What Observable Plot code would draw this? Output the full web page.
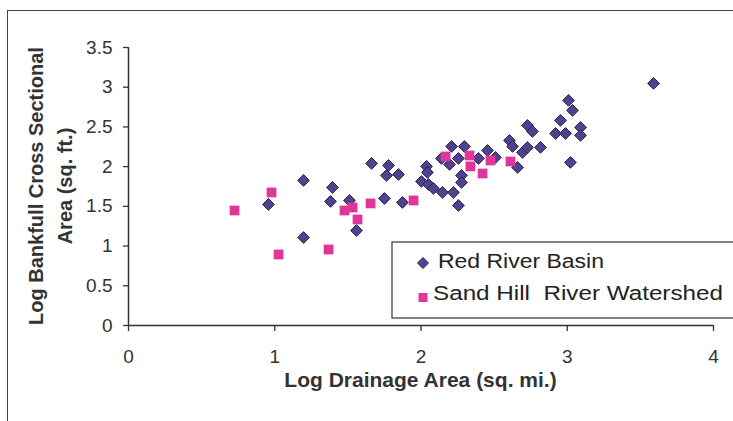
<!DOCTYPE html>
<html>
<head>
<meta charset="utf-8">
<script src="https://cdn.jsdelivr.net/npm/d3@7"></script>
<script src="https://cdn.jsdelivr.net/npm/@observablehq/plot@0.6"></script>
<style>
  html, body { margin: 0; padding: 0; background: #fff; }
  #wrap { position: relative; width: 733px; height: 421px; overflow: hidden; background: #fff; }
  #frame { position: absolute; left: 7px; top: 10px; width: 800px; height: 500px; border: 1.5px solid #444; box-sizing: border-box; }
  #chart { position: absolute; left: 0; top: 0; }
  #overlay { position: absolute; left: 0; top: 0; }
  .ttl { font-family: "Liberation Sans", Arial, sans-serif; font-weight: bold; fill: #333; }
  .leg { font-family: "Liberation Sans", Arial, sans-serif; fill: #222; white-space: pre; }
</style>
</head>
<body>
<div id="wrap">
  <div id="frame"></div>
  <div id="chart"></div>
  <svg id="overlay" width="733" height="421">
    <text class="ttl" x="420.5" y="387" text-anchor="middle" font-size="21">Log Drainage Area (sq. mi.)</text>
    <text class="ttl" transform="translate(43,186) rotate(-90)" text-anchor="middle" font-size="20">Log Bankfull Cross Sectional</text>
    <text class="ttl" transform="translate(72,186) rotate(-90)" text-anchor="middle" font-size="20">Area (sq. ft.)</text>
    <rect x="392" y="242" width="360" height="76" fill="#fff" stroke="#333" stroke-width="1.2"></rect>
    <path d="M423,257.5 L428.5,263 L423,268.5 L417.5,263 Z" fill="#50428f" stroke="#2a2350" stroke-width="1"></path>
    <rect x="418.5" y="293" width="9" height="9" fill="#e0359b"></rect>
    <text class="leg" x="438" y="268" font-size="20" textLength="166" lengthAdjust="spacingAndGlyphs">Red River Basin</text>
    <text class="leg" x="433" y="300" font-size="20" textLength="290" lengthAdjust="spacingAndGlyphs" xml:space="preserve">Sand Hill  River Watershed</text>
  </svg>
</div>
<script>
// Red River Basin (diamonds)
const redX = [0.957,1.197,1.197,1.395,1.381,1.511,1.559,1.662,1.778,1.764,1.846,1.750,1.873,2.038,2.044,2.003,2.051,2.085,2.147,2.222,2.256,2.277,2.277,2.209,2.297,2.195,2.140,2.256,2.455,2.393,2.509,2.660,2.605,2.626,2.694,2.728,2.728,2.762,2.817,2.920,2.954,2.988,3.009,3.036,3.091,3.091,3.022,3.590];
const redY = [1.524,1.826,1.108,1.738,1.562,1.574,1.196,2.040,2.015,1.889,1.902,1.599,1.549,2.003,1.927,1.814,1.776,1.725,1.675,1.675,1.511,1.889,1.801,2.254,2.254,2.028,2.103,2.103,2.204,2.103,2.116,1.990,2.330,2.254,2.179,2.242,2.519,2.443,2.242,2.418,2.582,2.418,2.834,2.708,2.494,2.393,2.053,3.048];
// Sand Hill River Watershed (squares)
const pinkX = [0.725,0.978,1.026,1.368,1.477,1.532,1.566,1.655,1.949,2.168,2.332,2.338,2.421,2.475,2.612];
const pinkY = [1.448,1.675,0.894,0.957,1.448,1.486,1.335,1.537,1.574,2.128,2.141,2.003,1.914,2.078,2.065];
const xTicks = [0,1,2,3,4];
const yTicks = [0,0.5,1,1.5,2,2.5,3,3.5];

const red = redX.map((x,i) => ({x, y: redY[i]}));
const pink = pinkX.map((x,i) => ({x, y: pinkY[i]}));

const chart = Plot.plot({
  width: 733, height: 421,
  marginLeft: 128, marginRight: 20, marginTop: 47, marginBottom: 96,
  style: {fontFamily: "'Liberation Sans', Arial, sans-serif", fontSize: "19px", color: "#333", background: "transparent", overflow: "visible"},
  x: {domain: [0,4]},
  y: {domain: [0,3.5]},
  marks: [
    Plot.axisX({ticks: xTicks, tickSize: 6, tickPadding: 18, tickFormat: d => String(d), label: null, strokeWidth: 1.3}),
    Plot.axisY({ticks: yTicks, tickSize: 5, tickPadding: 11, tickFormat: d => String(d), label: null, strokeWidth: 1.3}),
    Plot.ruleX([0], {stroke: "#333", strokeWidth: 1.5}),
    Plot.ruleY([0], {stroke: "#333", strokeWidth: 1.5}),
    Plot.dot(red, {x: "x", y: "y", symbol: "diamond2", r: 5.3, fill: "#50428f", stroke: "#2a2350", strokeWidth: 1}),
    Plot.dot(pink, {x: "x", y: "y", symbol: "square", r: 5.5, fill: "#e0359b", stroke: "none"})
  ]
});
document.getElementById("chart").appendChild(chart);
</script>
</body>
</html>
